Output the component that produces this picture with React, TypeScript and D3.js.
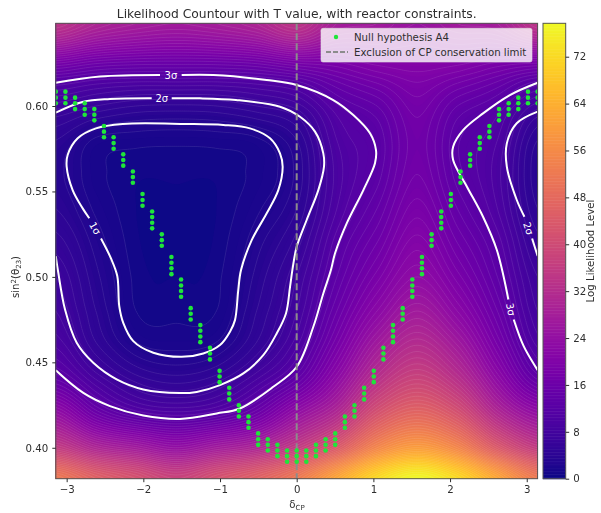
import React, { useEffect, useRef } from "react";
import * as d3 from "d3";

const W = 601;
const H = 513;
const plot = { left: 55.8, right: 537.6, top: 23.3, bottom: 478.7 };
const cbar = { left: 543, right: 565.7 };
const FONT = "'DejaVu Sans', sans-serif";
const INK = "#2e2e2e";
const CMAX = 77.7;

const xTicks = [-3, -2, -1, 0, 1, 2, 3];
const yTicks = [0.4, 0.45, 0.5, 0.55, 0.6];
const cbarTicks = [0, 8, 16, 24, 32, 40, 48, 56, 64, 72];

// log likelihood, one row per sin2 value, one column per delta
const PI = Math.PI;
const fieldDelta = [-PI, (-5 * PI) / 6, (-2 * PI) / 3, -PI / 2, -PI / 3, -PI / 6, 0, PI / 6, PI / 3, PI / 2, (2 * PI) / 3, (5 * PI) / 6, PI];
const fieldSin = [0.382, 0.4, 0.42, 0.44, 0.46, 0.48, 0.5, 0.52, 0.54, 0.56, 0.58, 0.6, 0.62, 0.648];
const fieldValues = [
  [52, 46, 42, 38, 42, 46, 52, 62, 72, 77.5, 72, 62, 52],
  [36, 30, 27, 24, 27, 30, 36, 44, 55, 60, 55, 44, 36],
  [24, 16, 11.8, 10.5, 11.8, 16, 24, 31, 42, 47, 42, 31, 24],
  [14, 9, 5.6, 4.5, 5.6, 9, 14, 23, 33, 38, 33, 23, 14],
  [9.8, 5.2, 2.2, 1.7, 2.2, 5.2, 9.8, 18, 27, 32, 27, 18, 9.8],
  [8, 4, 1, 0.8, 1, 4, 8, 15, 22, 27, 22, 15, 8],
  [7, 3.3, 0.8, 0.5, 0.8, 3.3, 7, 13, 18.5, 23, 18.5, 13, 7],
  [5.5, 2.6, 0.6, 0.4, 0.6, 2.6, 5.5, 11.6, 16, 20.5, 16, 11.6, 5.5],
  [4, 1.8, 0.5, 0.4, 0.5, 1.8, 4, 10, 14, 18.5, 14, 10, 4],
  [3.3, 1.3, 0.6, 0.6, 0.6, 1.3, 3.3, 9.4, 12.5, 17, 12.5, 9.4, 3.3],
  [4, 1.8, 1.4, 1.3, 1.4, 1.8, 4, 10, 12.2, 16.5, 12.2, 10, 4],
  [7.5, 6, 5, 4.8, 5, 6, 7.5, 11.8, 14, 17.5, 14, 11.8, 7.5],
  [15, 13.5, 13, 13, 13, 13.5, 15, 17, 19, 20, 19, 17, 15],
  [34, 30, 28, 27, 28, 30, 34, 28, 27, 25, 27, 28, 34],
];

// white confidence contours, [delta, sin2], split where the inline label sits
const sigma1 = [
  [-2.552, 0.5225], [-2.422, 0.5108], [-2.34, 0.5005], [-2.314, 0.4829], [-2.262, 0.4731], [-2.131, 0.4624],
  [-1.87, 0.4556], [-1.5, 0.4532], [-1.218, 0.4552], [-1.0, 0.4601], [-0.87, 0.4679], [-0.805, 0.4747],
  [-0.762, 0.4923], [-0.726, 0.504], [-0.587, 0.5215], [-0.391, 0.5372], [-0.24, 0.5508], [-0.183, 0.5645],
  [-0.218, 0.5723], [-0.348, 0.5811], [-0.609, 0.5869], [-0.957, 0.5889], [-1.444, 0.5895], [-2.269, 0.5895],
  [-2.618, 0.5869], [-2.856, 0.5811], [-2.987, 0.5713], [-3.0, 0.5645], [-2.922, 0.5508], [-2.791, 0.5401],
  [-2.705, 0.5343],
];
const sigma2LeftA = [[-3.142, 0.5961], [-2.783, 0.6025], [-2.435, 0.6041], [-1.891, 0.6045]];
const sigma2LeftB = [
  [-1.63, 0.6045], [-1.261, 0.6045], [-0.792, 0.6035], [-0.218, 0.5996], [0.043, 0.5937], [0.239, 0.585],
  [0.347, 0.5723], [0.356, 0.5645], [0.282, 0.5508], [0.13, 0.5333], [0, 0.5176], [-0.05, 0.5059],
  [-0.087, 0.4942], [-0.14, 0.4786], [-0.261, 0.4669], [-0.436, 0.4542], [-0.696, 0.4435], [-1.0, 0.4367],
  [-1.304, 0.4327], [-1.522, 0.432], [-2.001, 0.4341], [-2.348, 0.44], [-2.653, 0.4497], [-2.869, 0.4614],
  [-3.022, 0.481], [-3.109, 0.5024], [-3.142, 0.5122],
];
const sigma2RightA = [[3.142, 0.5967], [2.87, 0.5899], [2.74, 0.5781], [2.74, 0.5645], [2.87, 0.545], [2.97, 0.5352]];
const sigma2RightB = [[3.07, 0.5225], [3.142, 0.5122]];
const sigma3LeftA = [[-3.142, 0.6136], [-2.565, 0.6172], [-1.783, 0.6181]];
const sigma3LeftB = [
  [-1.5, 0.6181], [-1.088, 0.6181], [-0.391, 0.6152], [0, 0.6123], [0.477, 0.6035], [0.738, 0.5947],
  [0.956, 0.584], [1.034, 0.5742], [1.021, 0.5665], [0.869, 0.5508], [0.652, 0.5313], [0.5, 0.5138],
  [0.446, 0.504], [0.347, 0.4903], [0.217, 0.4708], [0, 0.4474], [-0.305, 0.4357], [-0.74, 0.423],
  [-1.043, 0.4201], [-1.522, 0.4169], [-2.001, 0.4189], [-2.435, 0.4244], [-2.783, 0.4321], [-3.142, 0.4454],
];
const sigma3RightA = [
  [3.142, 0.6136], [2.78, 0.6064], [2.43, 0.5957], [2.17, 0.5859], [2.04, 0.5762], [2.04, 0.5684],
  [2.22, 0.5528], [2.43, 0.5352], [2.61, 0.5157], [2.76, 0.4868],
];
const sigma3RightB = [[2.83, 0.4751], [2.96, 0.4595], [3.142, 0.4454]];
const sigmaCurves = [sigma1, sigma2LeftA, sigma2LeftB, sigma2RightA, sigma2RightB, sigma3LeftA, sigma3LeftB, sigma3RightA, sigma3RightB];

// inline labels: text, delta, sin2, rotation
const sigmaLabels: [string, number, number, number][] = [
  ["3σ", -1.64, 0.6181, 0],
  ["2σ", -1.76, 0.6045, 0],
  ["1σ", -2.63, 0.5284, 60],
  ["2σ", 3.02, 0.5284, 72],
  ["3σ", 2.79, 0.481, 80],
];

// null hypothesis A4 points, one list of sin2 values per delta column
const nullDelta = d3.range(51).map((i) => -3.1416 + i * 0.12566);
const nullSin = [
  [0.6084, 0.6049, 0.6016], [0.6084, 0.6049, 0.6016], [0.6049, 0.6016, 0.5982], [0.6016, 0.5982, 0.5949],
  [0.5982, 0.5949, 0.5916], [0.5883, 0.585, 0.5817], [0.5817, 0.5783, 0.575], [0.5717, 0.5684, 0.5651],
  [0.5617, 0.5584, 0.5551], [0.5485, 0.545, 0.5416], [0.5383, 0.535, 0.5317, 0.5284], [0.5249, 0.5215, 0.5182],
  [0.5116, 0.5083, 0.505, 0.5016], [0.4985, 0.495, 0.4917, 0.4884], [0.4817, 0.4784, 0.4751],
  [0.4718, 0.4685, 0.4651, 0.4618], [0.4585, 0.4552, 0.4517], [0.445, 0.4417, 0.4384], [0.4351, 0.4318, 0.4283],
  [0.4249, 0.4217, 0.4183], [0.4183, 0.415, 0.4117], [0.4084, 0.405, 0.4017], [0.405, 0.4017, 0.3984],
  [0.4017, 0.3984, 0.3951], [0.3984, 0.3951, 0.3918], [0.3984, 0.3951, 0.3918], [0.3984, 0.3951, 0.3918],
  [0.4017, 0.3984, 0.3951], [0.405, 0.4017, 0.3984], [0.4084, 0.405, 0.4017], [0.4183, 0.415, 0.4117],
  [0.4249, 0.4217, 0.4183], [0.4351, 0.4318, 0.4283], [0.445, 0.4417, 0.4384], [0.4585, 0.4552, 0.4517],
  [0.4718, 0.4685, 0.4651, 0.4618], [0.4817, 0.4784, 0.4751], [0.4985, 0.495, 0.4917, 0.4884],
  [0.5116, 0.5083, 0.505, 0.5016], [0.5249, 0.5215, 0.5182], [0.5383, 0.535, 0.5317, 0.5284],
  [0.5485, 0.545, 0.5416], [0.5617, 0.5584, 0.5551], [0.5717, 0.5684, 0.5651], [0.5817, 0.5783, 0.575],
  [0.5883, 0.585, 0.5817], [0.5982, 0.5949, 0.5916], [0.6016, 0.5982, 0.5949], [0.6049, 0.6016, 0.5982],
  [0.6084, 0.6049, 0.6016], [0.6084, 0.6049, 0.6016],
];

const catmull = (p0: number, p1: number, p2: number, p3: number, t: number) =>
  0.5 * (2 * p1 + (p2 - p0) * t + (2 * p0 - 5 * p1 + 4 * p2 - p3) * t * t + (3 * p1 - p0 - 3 * p2 + p3) * t * t * t);

// smooth the read table so d3.contours has something fine enough to trace
const sampleField = (delta: number, sin: number) => {
  const cols = fieldDelta.length;
  const rows = fieldSin.length;
  const u = d3.scaleLinear().domain(fieldDelta).range(d3.range(cols)).clamp(true)(delta);
  const v = d3.scaleLinear().domain(fieldSin).range(d3.range(rows)).clamp(true)(sin);
  const i = Math.min(Math.floor(u), cols - 2);
  const j = Math.min(Math.floor(v), rows - 2);
  const at = (r: number, c: number) => fieldValues[Math.max(0, Math.min(rows - 1, r))][Math.max(0, Math.min(cols - 1, c))];
  const line = (r: number) => catmull(at(r, i - 1), at(r, i), at(r, i + 1), at(r, i + 2), u - i);
  return Math.max(0, catmull(line(j - 1), line(j), line(j + 1), line(j + 2), v - j));
};

const App = () => {
  const ref = useRef<SVGSVGElement>(null);

  useEffect(() => {
    const svg = d3.select(ref.current);
    svg.selectAll("*").remove();

    const x = d3.scaleLinear().domain([-PI, PI]).range([plot.left, plot.right]);
    const y = d3.scaleLinear().domain([0.3819, 0.6484]).range([plot.bottom, plot.top]);
    const c = d3.scaleLinear().domain([0, CMAX]).range([plot.bottom, plot.top]);
    const colour = d3.scaleSequential(d3.interpolatePlasma).domain([0, CMAX]);

    svg.append("clipPath").attr("id", "plot-clip").append("rect")
      .attr("x", plot.left).attr("y", plot.top)
      .attr("width", plot.right - plot.left).attr("height", plot.bottom - plot.top);

    const g = svg.append("g").attr("clip-path", "url(#plot-clip)");
    g.append("rect").attr("x", plot.left).attr("y", plot.top)
      .attr("width", plot.right - plot.left).attr("height", plot.bottom - plot.top)
      .attr("fill", colour(0));

    // field
    const n = 242;
    const m = 229;
    const values: number[] = [];
    for (let j = 0; j < m; j++) {
      const sin = y.invert(plot.top + ((plot.bottom - plot.top) * j) / (m - 1));
      for (let i = 0; i < n; i++) {
        values.push(sampleField(-PI + (2 * PI * i) / (n - 1), sin));
      }
    }
    const levels = d3.range(0.5, 78, 0.5);
    const contours = d3.contours().size([n, m]).thresholds(levels)(values);
    const toPx = d3.geoTransform({
      point(px, py) {
        this.stream.point(
          plot.left + ((px - 0.5) * (plot.right - plot.left)) / (n - 1),
          plot.top + ((py - 0.5) * (plot.bottom - plot.top)) / (m - 1),
        );
      },
    });
    const path = d3.geoPath(toPx);

    g.append("g").selectAll("path").data(contours).join("path")
      .attr("d", (d) => path(d))
      .attr("fill", (d) => colour(d.value + 0.25));
    g.append("g").selectAll("path").data(contours.filter((d) => d.value % 1 === 0)).join("path")
      .attr("d", (d) => path(d))
      .attr("fill", "none")
      .attr("stroke", "#fff")
      .attr("stroke-opacity", 0.14)
      .attr("stroke-width", 0.7);

    // sigma contours
    const line = d3.line().x((d) => x(d[0])).y((d) => y(d[1])).curve(d3.curveCatmullRom);
    g.append("g").selectAll("path").data(sigmaCurves).join("path")
      .attr("d", (d) => line(d as [number, number][]))
      .attr("fill", "none")
      .attr("stroke", "#fff")
      .attr("stroke-width", 2);

    g.append("g").selectAll("text").data(sigmaLabels).join("text")
      .attr("transform", (d) => `translate(${x(d[1])},${y(d[2])}) rotate(${d[3]})`)
      .attr("text-anchor", "middle")
      .attr("dy", "0.35em")
      .attr("fill", "#fff")
      .attr("font-family", FONT)
      .attr("font-size", 10)
      .text((d) => d[0]);

    // conservation limit
    g.append("line")
      .attr("x1", x(0)).attr("x2", x(0)).attr("y1", plot.top).attr("y2", plot.bottom)
      .attr("stroke", "#8c8c8c")
      .attr("stroke-width", 2)
      .attr("stroke-dasharray", "7,3");

    // null hypothesis points
    const dots = nullSin.flatMap((list, i) => list.map((s) => [nullDelta[i], s]));
    g.append("g").selectAll("circle").data(dots).join("circle")
      .attr("cx", (d) => x(d[0]))
      .attr("cy", (d) => y(d[1]))
      .attr("r", 2.3)
      .attr("fill", "#1fe53a");

    // frame and axes
    svg.append("rect").attr("x", plot.left).attr("y", plot.top)
      .attr("width", plot.right - plot.left).attr("height", plot.bottom - plot.top)
      .attr("fill", "none").attr("stroke", "#555").attr("stroke-width", 1);

    const styleAxis = (a) => {
      a.select(".domain").remove();
      a.selectAll("line").attr("stroke", INK);
      a.selectAll("text").attr("fill", INK).attr("font-family", FONT).attr("font-size", 10.2);
    };
    svg.append("g").attr("transform", `translate(0,${plot.bottom})`)
      .call(d3.axisBottom(x).tickValues(xTicks).tickFormat((d) => d3.format("d")(d).replace("-", "\u2212")).tickSize(3.5).tickPadding(4))
      .call(styleAxis);
    svg.append("g").attr("transform", `translate(${plot.left},0)`)
      .call(d3.axisLeft(y).tickValues(yTicks).tickFormat(d3.format(".2f")).tickSize(3.5).tickPadding(4))
      .call(styleAxis);

    // colorbar
    const bar = svg.append("g");
    bar.selectAll("rect").data(d3.range(0, CMAX, 0.25)).join("rect")
      .attr("x", cbar.left)
      .attr("width", cbar.right - cbar.left)
      .attr("y", (d) => c(d + 0.25))
      .attr("height", (d) => c(d) - c(d + 0.25) + 0.5)
      .attr("fill", (d) => colour(d));
    svg.append("rect").attr("x", cbar.left).attr("y", plot.top)
      .attr("width", cbar.right - cbar.left).attr("height", plot.bottom - plot.top)
      .attr("fill", "none").attr("stroke", "#555").attr("stroke-width", 1);
    svg.append("g").attr("transform", `translate(${cbar.right},0)`)
      .call(d3.axisRight(c).tickValues(cbarTicks).tickSize(3.5).tickPadding(4))
      .call(styleAxis);

    // texts
    const label = (tx, ty, rot = 0) => svg.append("text")
      .attr("transform", `translate(${tx},${ty}) rotate(${rot})`)
      .attr("text-anchor", "middle")
      .attr("fill", INK)
      .attr("font-family", FONT)
      .attr("font-size", 10.2);

    label(296.7, 17.5).attr("font-size", 12.3).text("Likelihood Countour with T value, with reactor constraints.");
    label(594, 251, -90).text("Log Likelihood Level");

    const xl = label(297, 508);
    xl.append("tspan").text("δ");
    xl.append("tspan").attr("dy", 2).attr("font-size", 7).text("CP");

    const yl = label(19, 277, -90);
    yl.append("tspan").text("sin");
    yl.append("tspan").attr("dy", -3.5).attr("font-size", 7).text("2");
    yl.append("tspan").attr("dy", 3.5).text("(θ");
    yl.append("tspan").attr("dy", 2).attr("font-size", 7).text("23");
    yl.append("tspan").attr("dy", -2).text(")");

    // legend
    const lg = svg.append("g");
    lg.append("rect").attr("x", 321).attr("y", 28.3).attr("width", 211).attr("height", 33.7).attr("rx", 2)
      .attr("fill", "#fff").attr("fill-opacity", 0.8).attr("stroke", "#ddd").attr("stroke-opacity", 0.6);
    lg.append("circle").attr("cx", 336).attr("cy", 37).attr("r", 2.2).attr("fill", "#1fe53a");
    lg.append("line").attr("x1", 326).attr("x2", 348).attr("y1", 52).attr("y2", 52)
      .attr("stroke", "#8c8c8c").attr("stroke-width", 2).attr("stroke-dasharray", "5,2");
    lg.selectAll("text").data(["Null hypothesis A4", "Exclusion of CP conservation limit"]).join("text")
      .attr("x", 354)
      .attr("y", (d, i) => 37 + i * 15.3)
      .attr("dy", "0.35em")
      .attr("fill", INK)
      .attr("font-family", FONT)
      .attr("font-size", 10.2)
      .text((d) => d);
  }, []);

  return (
    <svg
      ref={ref}
      width={W}
      height={H}
      style={{ position: "absolute", left: 0, top: 0, filter: "blur(0.7px)" }}
    />
  );
};

export default App;
